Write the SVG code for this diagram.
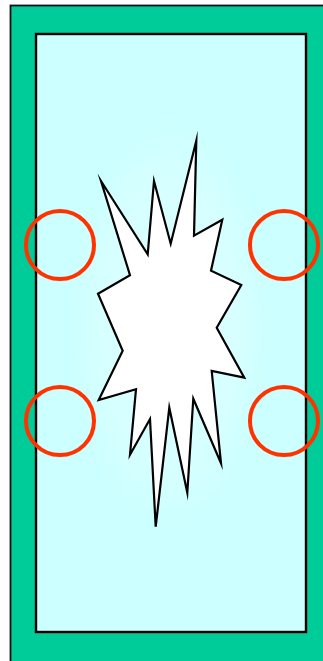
<svg xmlns="http://www.w3.org/2000/svg" width="323" height="661" viewBox="0 0 323 661">
<style>
.ring{fill:none;stroke:#ff3300;stroke-width:4}
</style>
<defs>
<radialGradient id="glow" cx="0.5" cy="0.5" r="0.5">
<stop offset="0" stop-color="#e0ffff"/>
<stop offset="0.7" stop-color="#d6ffff"/>
<stop offset="1" stop-color="#ccffff"/>
</radialGradient>
</defs>
<g id="frame">
<rect x="10.5" y="5.5" width="330" height="680" fill="#00cc99" stroke="#111" stroke-width="1.8"/>
</g>
<g id="panel">
<rect x="36" y="34" width="270" height="598" fill="#ccffff" stroke="#000" stroke-width="2.4"/>
<rect x="70" y="120" width="200" height="410" fill="url(#glow)"/>
</g>
<g id="burst">
<polygon points="101,181 147.7,254.3 154,181 170.7,243.7 196.3,140.7 194,235.7 222.3,219.7 211,270.7 241.3,285 216.7,327.7 244.3,377.7 211.7,371 221,463.3 193.3,398.7 187.3,492.7 169.3,407.7 155.7,526.7 150,419 130,454.7 136,389.3 98.7,400 122.7,350.7 98,293.7 130,275.3" fill="#fff" stroke="#000" stroke-width="2.2" stroke-linejoin="miter" stroke-miterlimit="10"/>
</g>
<g id="rings">
<circle class="ring" cx="60" cy="245" r="34"/>
<circle class="ring" cx="284" cy="245" r="34"/>
<circle class="ring" cx="60" cy="421" r="34"/>
<circle class="ring" cx="284" cy="421" r="34"/>
</g>
</svg>
